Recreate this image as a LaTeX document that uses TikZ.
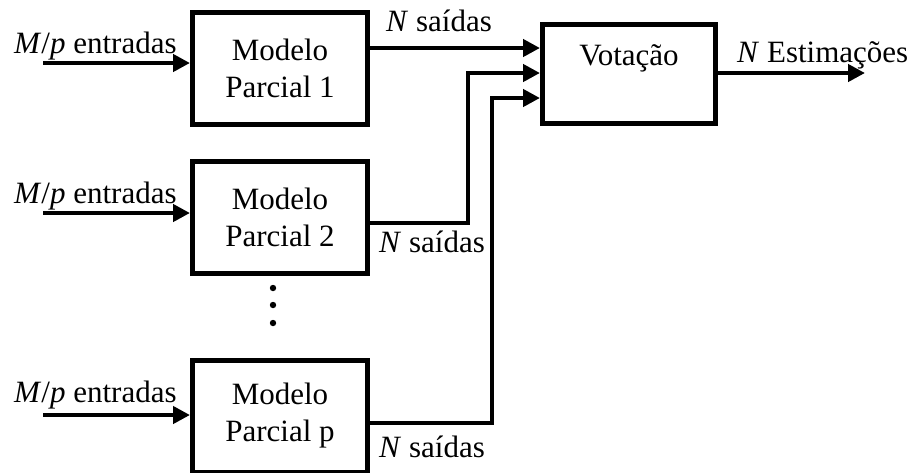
\documentclass[tikz,border=0pt]{standalone}
\usepackage{fontspec}
\setmainfont{Liberation Serif}
\usetikzlibrary{arrows.meta,positioning}

\begin{document}
\begin{tikzpicture}[x=0.5pt,y=-0.5pt,->,>={Triangle[length=8.5pt,width=8.5pt]},
                    line width=2.2pt,node distance=74.5pt,
                    font=\fontsize{15.5}{18.5}\selectfont,
                    modelbox/.style={rectangle, draw=black, line width=2.5pt, align=center,
                                     minimum width=87.5pt, minimum height=56pt},
                    txt/.style={anchor=base west, inner sep=0pt}]
  \useasboundingbox (0,0) rectangle (908,472);

  % partial models and the voting block
  \node[modelbox]                          (m1) at (280,68.5) {Modelo\\Parcial 1};
  \node[modelbox]                          (m2) [below of=m1] {Modelo\\Parcial 2};
  \node[modelbox, node distance=99.25pt]   (mp) [below of=m2] {Modelo\\Parcial p};
  \node[modelbox, minimum width=86.5pt, minimum height=49.5pt,
        text height=11pt, text depth=20pt] (vote) at (629,74) {Votação};

  % inputs
  \coordinate (in1) at (43,63);
  \coordinate (in2) at (43,213);
  \coordinate (inp) at (43,415);
  \coordinate (est) at (865,73);

  \draw (in1) -- (in1 -| m1.west);
  \draw (in2) -- (in2 -| m2.west);
  \draw (inp) -- (inp -| mp.west);
  \node[txt] (l1) at (12,53)  {\textit{M}/\textit{p} entradas};
  \node[txt] (l2) at (12,203) {\textit{M}/\textit{p} entradas};
  \node[txt] (lp) at (12,402) {\textit{M}/\textit{p} entradas};

  % outputs into the vote
  \draw (m1.east |- 0,48) -- (vote.west |- 0,48);
  \draw (m2.east |- 0,223) -| (468,73) -- (vote.west |- 0,73);
  \draw (mp.east |- 0,423) -| (492,98) -- (vote.west |- 0,98);
  \draw (vote.east |- est) -- (est);

  \node[txt] (s1) at (384,31)  {\textit{N} saídas};
  \node[txt] (s2) at (377,252) {\textit{N} saídas};
  \node[txt] (sp) at (377,457) {\textit{N} saídas};
  \node[txt] (se) at (735,62)  {\textit{N} Estimações};

  % dots between model 2 and model p
  \fill (273,288) circle (1.6pt);
  \fill (273,305) circle (1.6pt);
  \fill (273,323) circle (1.6pt);
\end{tikzpicture}
\end{document}
